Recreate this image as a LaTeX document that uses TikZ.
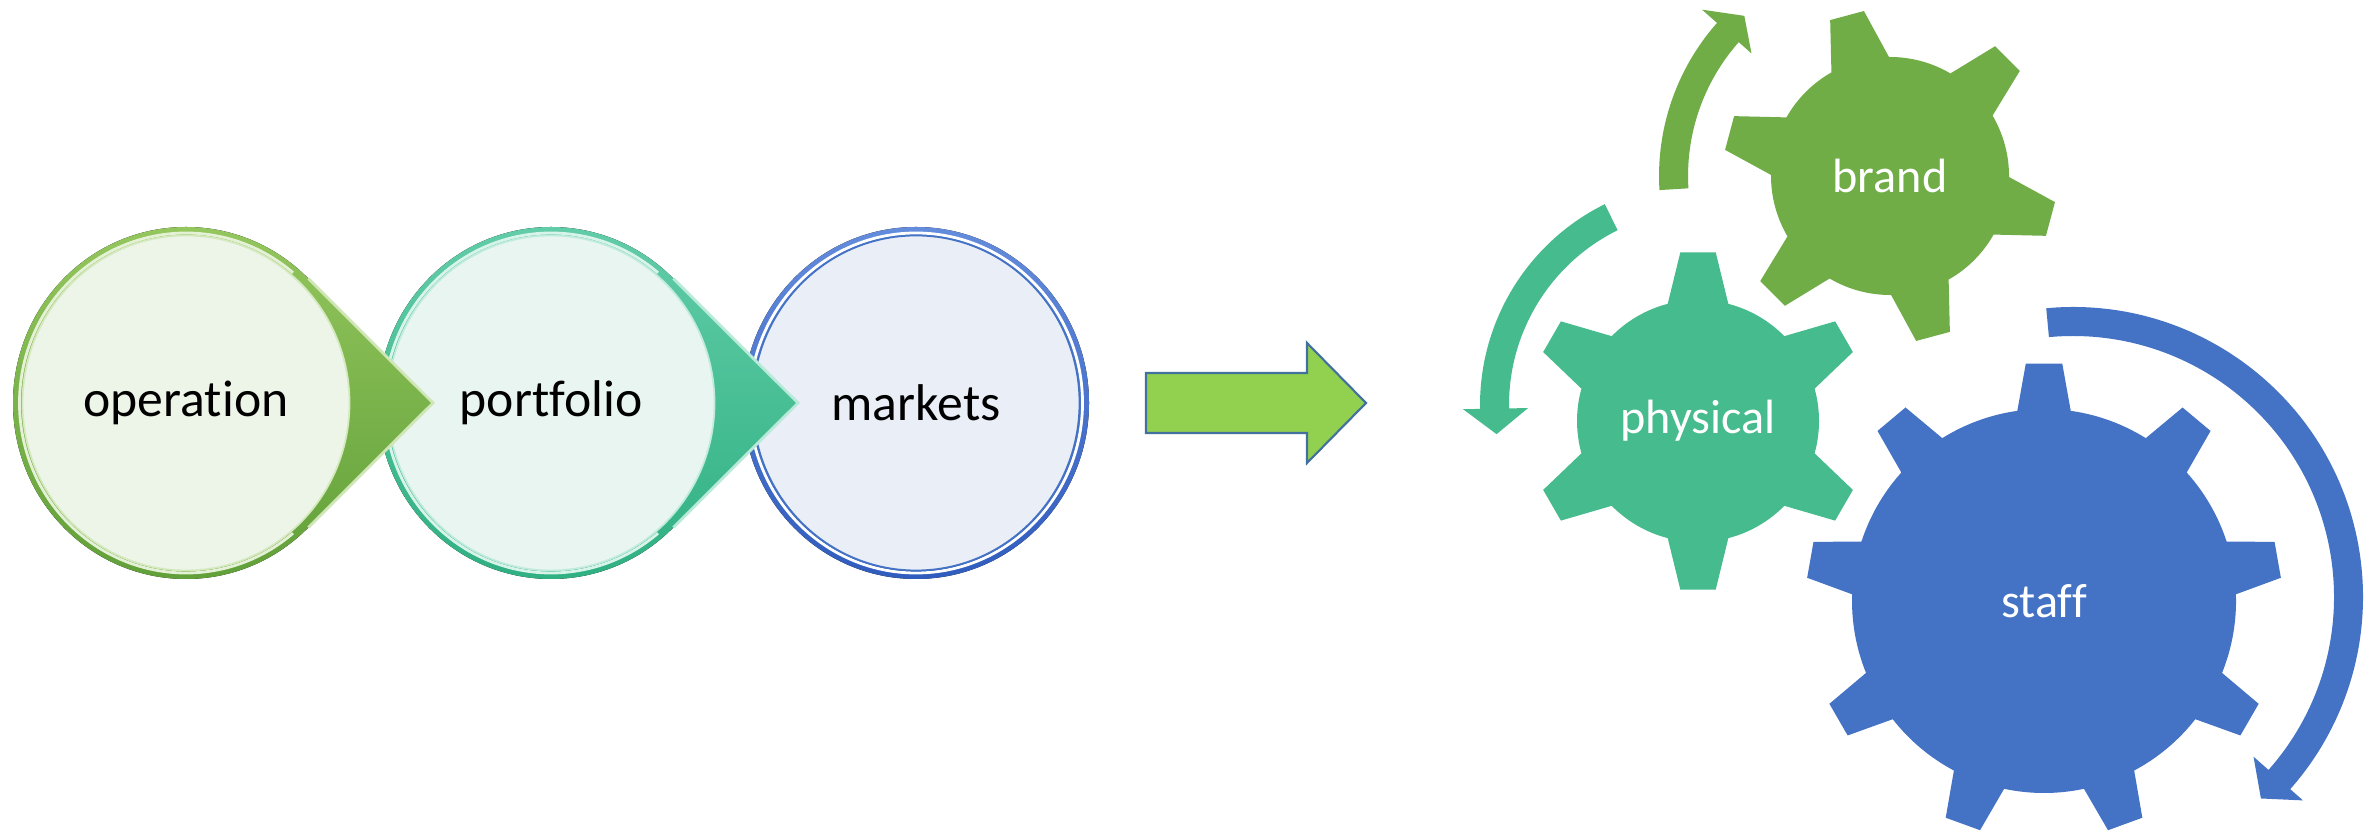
\documentclass[tikz,border=0pt]{standalone}
\usepackage{fontspec}
\setmainfont{Carlito}[Ligatures=NoCommon]
\usetikzlibrary{positioning}

\definecolor{oplight}{RGB}{150,200,95}
\definecolor{opdark}{RGB}{95,158,55}
\definecolor{opfill}{RGB}{237,244,232}
\definecolor{pflight}{RGB}{100,206,170}
\definecolor{pfdark}{RGB}{45,175,128}
\definecolor{pffill}{RGB}{233,245,241}
\definecolor{mklight}{RGB}{100,140,220}
\definecolor{mkdark}{RGB}{48,92,190}
\definecolor{mkblue}{RGB}{68,114,196}
\definecolor{mkfill}{RGB}{233,238,247}
\definecolor{arrowgreen}{RGB}{146,208,80}
\definecolor{arrowedge}{RGB}{65,113,156}
\definecolor{brandgreen}{RGB}{112,173,71}
\definecolor{physteal}{RGB}{69,187,142}
\definecolor{staffblue}{RGB}{68,114,196}

\pgfdeclarelayer{background}
\pgfsetlayers{background,main}

\begin{document}
\begin{tikzpicture}[
    stage/.style={font=\fontsize{14.7}{17}\selectfont, text=black, inner sep=0pt},
    geartext/.style={font=\fontsize{13.7}{16}\selectfont, text=white, inner sep=0pt},
    blockarrow/.style={fill=arrowgreen, draw=arrowedge, line width=0.6pt, line join=miter}
]
\useasboundingbox (0,0) rectangle (23.74,8.32);

% Stages
\node[stage] (operation) at (1.86,4.29) {operation};
\node[stage] (portfolio) at (5.51,4.29) {portfolio};
\node[stage] (markets) at (9.16,4.29) {markets};

% Gears
\node[geartext] (brand) at (18.90,6.56) {brand};
\node[geartext] (physical) at (16.98,4.11) {physical};
\node[geartext] (staff) at (20.44,2.31) {staff};

\begin{pgfonlayer}{background}
\fill[white] (0,0) rectangle (23.74,8.32);

% Bubbles, last one first so each point lies over the next
\begin{scope}[shift={(markets.center)}]
  \fill[top color=mklight, bottom color=mkdark] (0,0) ellipse [x radius=1.73, y radius=1.76];
  \draw[white, line width=0.8pt] (0,0) ellipse [x radius=1.665, y radius=1.70];
  \filldraw[fill=mkfill, draw=mkblue, line width=0.5pt] (0,0) ellipse [x radius=1.635, y radius=1.675];
\end{scope}
\foreach \s/\lt/\dk/\inr in {portfolio/pflight/pfdark/pffill, operation/oplight/opdark/opfill} {
  \begin{scope}[shift={(\s.center)}]
    \fill[top color=\lt, bottom color=\dk] (45:1.73 and 1.76) arc[start angle=45, end angle=315, x radius=1.73, y radius=1.76] -- (2.47,0) -- cycle;
    \draw[\lt!45!white, line width=0.8pt] (45:1.73 and 1.76) -- (2.47,0) -- (315:1.73 and 1.76);
    \draw[\lt!25!white, line width=0.8pt] (50:1.665 and 1.70) arc[start angle=50, end angle=310, x radius=1.665, y radius=1.70];
    \filldraw[fill=\inr, draw=\lt!40!white, line width=0.5pt] (0,0) ellipse [x radius=1.635, y radius=1.675];
  \end{scope}
}

% Gear wheels
\foreach \g/\n/\off/\rb/\rt/\bh/\th/\col in {brand/6/45/1.19/1.67/14.5/6/brandgreen, physical/6/30/1.21/1.695/14.5/6/physteal, staff/9/10/1.92/2.38/8/4.4/staffblue} {
  \pgfmathsetmacro{\stepang}{360/\n}
  \fill[\col, shift={(\g.center)}] ({\off-\bh}:\rb)
    \foreach \i in {1,...,\n} {
      -- ({\off+(\i-1)*\stepang-\th}:\rt) -- ({\off+(\i-1)*\stepang+\th}:\rt)
      -- ({\off+(\i-1)*\stepang+\bh}:\rb)
      arc[start angle={\off+(\i-1)*\stepang+\bh}, end angle={\off+\i*\stepang-\bh}, radius=\rb]
    } -- cycle;
}
\end{pgfonlayer}

% Transition arrow
\draw[blockarrow] (11.46,4.59) -- (13.07,4.59) -- (13.07,4.89) -- (13.66,4.29) -- (13.07,3.69) -- (13.07,3.99) -- (11.46,3.99) -- cycle;

% Turning arrows round the gears
\foreach \cx/\cy/\rin/\rout/\from/\to/\tip/\hin/\hout/\col in {18.90/6.56/2.02/2.31/183.5/138.5/132.3/1.85/2.51/brandgreen, 17.04/4.27/1.95/2.24/116.3/181/188/1.76/2.41/physteal, 20.73/2.35/2.61/2.90/95.3/-41.5/-47/2.41/3.07/staffblue} {
  \fill[\col, shift={(\cx,\cy)}] (\from:\rout) arc[start angle=\from, end angle=\to, radius=\rout]
    -- (\to:\hout) -- ({\tip}:{(\rin+\rout)/2}) -- (\to:\hin) -- (\to:\rin)
    arc[start angle=\to, end angle=\from, radius=\rin] -- cycle;
}

\end{tikzpicture}
\end{document}
